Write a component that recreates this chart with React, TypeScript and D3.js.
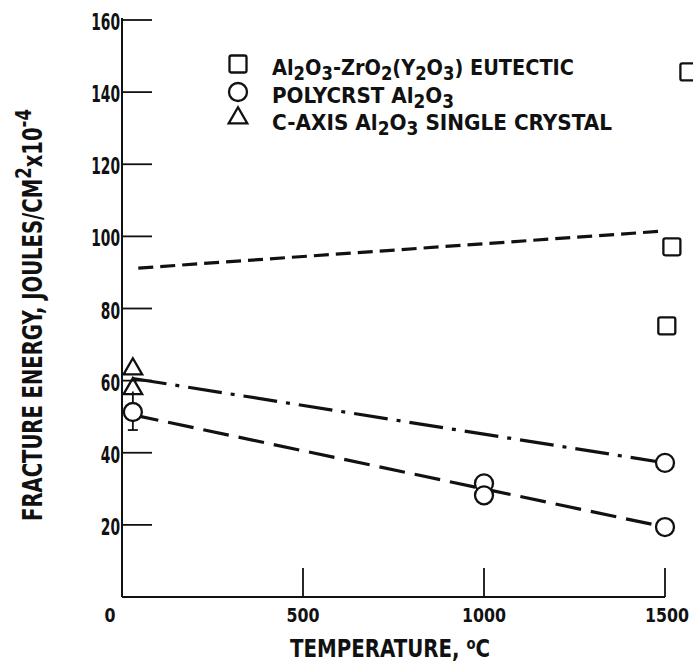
import * as d3 from "d3";

const WIDTH = 693;
const HEIGHT = 664;
const FONT = '"DejaVu Sans Condensed", "Liberation Sans Narrow", "DejaVu Sans", sans-serif';
const INK = "#111";

// tick labels
const yTicks = [20, 40, 60, 80, 100, 120, 140, 160];
const xTickLabels = [0, 500, 1000, 1500];
const xTickMarks = [500, 1000, 1500];

// eutectic (squares)
const eutecticTemp = [1505, 1519, 1566];
const eutecticEnergy = [75.2, 97.1, 145.6];

// polycrystalline Al2O3 (circles)
const polyTemp = [30, 1000, 1000, 1500, 1500];
const polyEnergy = [51.3, 31.5, 28.2, 37.2, 19.4];
const polyErrTemp = [30];
const polyErrLow = [46.3];
const polyErrHigh = [57];

// c-axis single crystal (triangles)
const crystalTemp = [30, 30];
const crystalEnergy = [63.5, 58.0];

// fitted lines
const eutecticFitTemp = [45, 1500];
const eutecticFitEnergy = [91.2, 101.5];
const polyFitTemp = [30, 1500];
const polyFitEnergy = [50.5, 19.4];
const crystalFitTemp = [30, 1500];
const crystalFitEnergy = [60.6, 37.2];

const legendLabels = [
  "Al_2O_3-ZrO_2(Y_2O_3) EUTECTIC",
  "POLYCRST Al_2O_3",
  "C-AXIS Al_2O_3 SINGLE CRYSTAL",
];
const legendShapes = ["square", "circle", "triangle"];
const legendWidths = [302, 182, 340];

function Subscripted({ text }: { text: string }) {
  const parts = text.split(/_(\d)/);
  const out: any[] = [];
  let shifted = false;
  parts.forEach((p, i) => {
    if (p === "") return;
    if (i % 2 === 1) {
      out.push(
        <tspan key={i} dy={shifted ? 0 : 5} fontSize="0.85em">
          {p}
        </tspan>
      );
      shifted = true;
    } else {
      out.push(
        <tspan key={i} dy={shifted ? -5 : 0}>
          {p}
        </tspan>
      );
      shifted = false;
    }
  });
  return <>{out}</>;
}

function Marker({ shape, cx, cy }: { shape: string; cx: number; cy: number }) {
  const common = { fill: "none", stroke: INK, strokeWidth: 2.3 };
  if (shape === "square") {
    return <rect x={cx - 8.5} y={cy - 8.5} width={17} height={17} rx={2} {...common} />;
  }
  if (shape === "circle") {
    return <circle cx={cx} cy={cy} r={9} {...common} />;
  }
  const tri = d3.symbol().type(d3.symbolTriangle).size(150)();
  return <path d={tri || ""} transform={`translate(${cx},${cy + 1})`} {...common} />;
}

export default function App() {
  const x = d3.scaleLinear().domain([0, 1500]).range([122, 665]);
  const y = d3.scaleLinear().domain([0, 160]).range([597, 20]);

  const fit = (ts: number[], es: number[]) =>
    d3
      .line<number>()
      .x((d) => x(d))
      .y((_, i) => y(es[i]))(ts) || "";

  const x0 = x(0);
  const y0 = y(0);

  return (
    <div style={{ position: "absolute", left: 0, top: 0 }}>
      <svg width={WIDTH} height={HEIGHT} style={{ display: "block", background: "#fff" }}>
        <rect x={0} y={0} width={WIDTH} height={HEIGHT} fill="#fff" />
        <g fontFamily={FONT} fontWeight="bold" fill={INK}>
          {/* axes */}
          <line x1={x0} x2={x0} y1={y(160) - 2} y2={y0} stroke={INK} strokeWidth={2} />
          <line x1={x0} x2={x(1500)} y1={y0} y2={y0} stroke={INK} strokeWidth={2} />

          {yTicks.map((v) => (
            <g key={v}>
              <line x1={x0} x2={x0 + 30} y1={y(v)} y2={y(v)} stroke={INK} strokeWidth={1.8} />
              <text
                x={x0 - 2}
                y={y(v) + 10}
                fontSize={23}
                textAnchor="end"
                textLength={String(v).length * 9.6}
                lengthAdjust="spacingAndGlyphs"
              >
                {v}
              </text>
            </g>
          ))}

          {xTickMarks.map((v) => (
            <line key={v} x1={x(v)} x2={x(v)} y1={y0} y2={y0 - 29} stroke={INK} strokeWidth={1.8} />
          ))}
          {xTickLabels.map((v) => {
            const last = v === 1500;
            return (
              <text
                key={v}
                x={x(v) + (v === 0 ? -12 : last ? 24 : 0)}
                y={y0 + 25}
                fontSize={20}
                textAnchor={last ? "end" : "middle"}
                textLength={v === 0 ? 11 : String(v).length * 11}
                lengthAdjust="spacingAndGlyphs"
              >
                {v}
              </text>
            );
          })}

          {/* axis titles */}
          <text x={290} y={657} fontSize={24} textLength={200} lengthAdjust="spacingAndGlyphs">
            TEMPERATURE,{" "}
            <tspan dy={-8} fontSize={16}>
              o
            </tspan>
            <tspan dy={8}>C</tspan>
          </text>
          <text
            transform="translate(42,521) rotate(-90)"
            x={0}
            y={0}
            fontSize={26}
            textLength={412}
            lengthAdjust="spacingAndGlyphs"
          >
            FRACTURE ENERGY, JOULES/CM
            <tspan dy={-11} fontSize={22}>
              2
            </tspan>
            <tspan dy={11}>x10</tspan>
            <tspan dy={-11} fontSize={22}>
              -4
            </tspan>
          </text>

          {/* fitted lines */}
          <path
            d={fit(eutecticFitTemp, eutecticFitEnergy)}
            fill="none"
            stroke={INK}
            strokeWidth={3.2}
            strokeDasharray="15 7"
          />
          <path
            d={fit(polyFitTemp, polyFitEnergy)}
            fill="none"
            stroke={INK}
            strokeWidth={3.2}
            strokeDasharray="26 10"
          />
          <path
            d={fit(crystalFitTemp, crystalFitEnergy)}
            fill="none"
            stroke={INK}
            strokeWidth={3.2}
            strokeDasharray="34 9 4 9"
          />

          {/* error bars */}
          {polyErrTemp.map((t, i) => (
            <g key={i} stroke={INK} strokeWidth={1.8}>
              <line x1={x(t)} x2={x(t)} y1={y(polyErrLow[i])} y2={y(polyErrHigh[i])} />
              <line x1={x(t) - 5} x2={x(t) + 5} y1={y(polyErrLow[i])} y2={y(polyErrLow[i])} />
            </g>
          ))}

          {/* points */}
          {eutecticTemp.map((t, i) => (
            <Marker key={"s" + i} shape="square" cx={x(t)} cy={y(eutecticEnergy[i])} />
          ))}
          {polyTemp.map((t, i) => (
            <g key={"c" + i}>
              <circle cx={x(t)} cy={y(polyEnergy[i])} r={9} fill="#fff" />
              <Marker shape="circle" cx={x(t)} cy={y(polyEnergy[i])} />
            </g>
          ))}
          {crystalTemp.map((t, i) => (
            <Marker key={"t" + i} shape="triangle" cx={x(t)} cy={y(crystalEnergy[i])} />
          ))}

          {/* legend */}
          {legendLabels.map((lab, i) => {
            const baselines = [75, 103, 130];
            const markerY = [64, 92, 117];
            return (
              <g key={lab}>
                <Marker shape={legendShapes[i]} cx={238} cy={markerY[i]} />
                <text
                  x={272}
                  y={baselines[i]}
                  fontSize={22}
                  textLength={legendWidths[i]}
                  lengthAdjust="spacingAndGlyphs"
                >
                  <Subscripted text={lab} />
                </text>
              </g>
            );
          })}
        </g>
      </svg>
    </div>
  );
}
